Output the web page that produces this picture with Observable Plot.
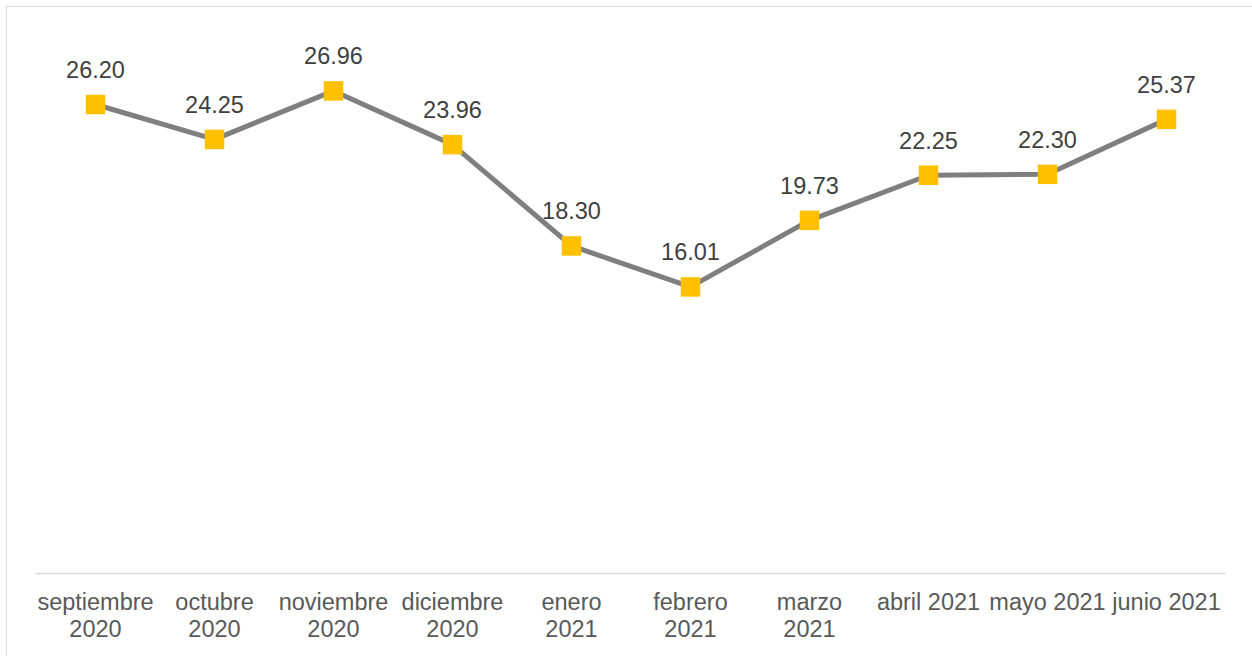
<!DOCTYPE html>
<html>
<head>
<meta charset="utf-8">
<script src="https://cdn.jsdelivr.net/npm/d3@7"></script>
<script src="https://cdn.jsdelivr.net/npm/@observablehq/plot@0.6"></script>
<style>
  html, body { margin: 0; padding: 0; background: #fff; }
  #wrap { position: relative; width: 1252px; height: 656px; overflow: hidden; }
  #frame { position: absolute; left: 6px; top: 6px; width: 1300px; height: 700px;
           border-left: 1.5px solid #d9d9d9; border-top: 1.5px solid #d9d9d9; box-sizing: border-box; }
  #chart { position: absolute; left: 0; top: 0; }
</style>
</head>
<body>
<div id="wrap"><div id="frame"></div><div id="chart"></div></div>
<script>
const months = ["septiembre\n2020", "octubre\n2020", "noviembre\n2020", "diciembre\n2020", "enero\n2021", "febrero\n2021", "marzo\n2021", "abril 2021", "mayo 2021", "junio 2021"];
const values = [26.20, 24.25, 26.96, 23.96, 18.30, 16.01, 19.73, 22.25, 22.30, 25.37];

const data = months.map((m, i) => ({month: m, value: values[i]}));

const chart = Plot.plot({
  width: 1252,
  height: 656,
  marginLeft: 35.5,
  marginRight: 26.5,
  marginTop: 36,
  marginBottom: 83,
  style: {fontFamily: "'Liberation Sans', Arial, sans-serif", background: "transparent"},
  x: {type: "point", domain: months, padding: 0.5, label: null},
  y: {domain: [0, 30], axis: null},
  marks: [
    Plot.ruleY([0], {stroke: "#d9d9d9", strokeWidth: 1.5}),
    Plot.axisX({tickSize: 0, tickPadding: 17, fontSize: 23.5, lineHeight: 1.15, fill: "#595959", label: null}),
    Plot.line(data, {x: "month", y: "value", stroke: "#7f7f7f", strokeWidth: 5}),
    Plot.dot(data, {x: "month", y: "value", symbol: "square", r: 11, fill: "#ffc000", stroke: "none"}),
    Plot.text(data, {x: "month", y: "value", text: d => d.value.toFixed(2), dy: -34, fontSize: 23.5, fill: "#404040"})
  ]
});
document.getElementById("chart").appendChild(chart);
</script>
</body>
</html>
